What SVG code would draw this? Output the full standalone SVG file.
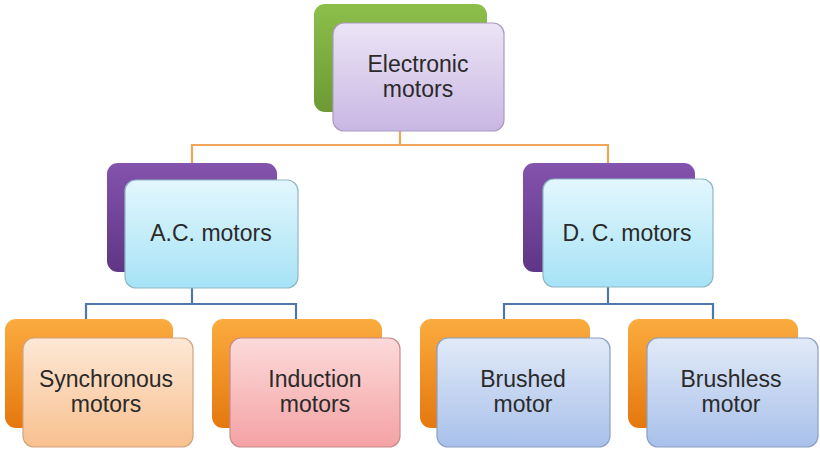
<svg xmlns="http://www.w3.org/2000/svg" width="820" height="451" viewBox="0 0 820 451">
<defs>
<linearGradient id="gGreen" x1="0" y1="0" x2="0" y2="1"><stop offset="0" stop-color="#8cbf4a"/><stop offset="1" stop-color="#6d9a33"/></linearGradient>
<linearGradient id="gPurple" x1="0" y1="0" x2="0" y2="1"><stop offset="0" stop-color="#8453ad"/><stop offset="1" stop-color="#5f3585"/></linearGradient>
<linearGradient id="gOrange" x1="0" y1="0" x2="0" y2="1"><stop offset="0" stop-color="#fbab3f"/><stop offset="1" stop-color="#e4780f"/></linearGradient>
<linearGradient id="gLav" x1="0" y1="0" x2="0" y2="1"><stop offset="0" stop-color="#ebe4f5"/><stop offset="1" stop-color="#c9b7e3"/></linearGradient>
<linearGradient id="gCyan" x1="0" y1="0" x2="0" y2="1"><stop offset="0" stop-color="#e3f7fd"/><stop offset="1" stop-color="#a6e2f6"/></linearGradient>
<linearGradient id="gPeach" x1="0" y1="0" x2="0" y2="1"><stop offset="0" stop-color="#fde8d6"/><stop offset="1" stop-color="#f8c08f"/></linearGradient>
<linearGradient id="gPink" x1="0" y1="0" x2="0" y2="1"><stop offset="0" stop-color="#fcdada"/><stop offset="1" stop-color="#f4a2a4"/></linearGradient>
<linearGradient id="gBlue" x1="0" y1="0" x2="0" y2="1"><stop offset="0" stop-color="#e1eaf8"/><stop offset="1" stop-color="#a8c0ea"/></linearGradient>
</defs>
<style>
.t{font-family:"Liberation Sans",Arial,sans-serif;font-size:23px;fill:#2a2a2a;text-anchor:middle}
.back{stroke:none}
.front{stroke-width:1.2}
.oc{fill:none;stroke:#f0a55a;stroke-width:2.2}
.bc{fill:none;stroke:#4f77ad;stroke-width:2.2}
</style>
<g id="connectors">
<path class="oc" d="M400 130 V145 M192 163 V145 H608 V163"/>
<path class="bc" d="M192 288 V304 M86 319 V304 H296 V319"/>
<path class="bc" d="M608 287 V304 M504 319 V304 H713 V319"/>
</g>
<g id="electronic">
<rect class="back" x="314" y="4" width="173" height="108" rx="11" fill="url(#gGreen)"/>
<rect class="front" x="333" y="23" width="171" height="108" rx="11" fill="url(#gLav)" stroke="#a99bc0"/>
<text class="t" x="418" y="72">Electronic</text>
<text class="t" x="418" y="97">motors</text>
</g>
<g id="ac">
<rect class="back" x="107" y="163" width="170" height="109" rx="11" fill="url(#gPurple)"/>
<rect class="front" x="125" y="180" width="173" height="108" rx="11" fill="url(#gCyan)" stroke="#8fb8c4"/>
<text class="t" x="211" y="241">A.C. motors</text>
</g>
<g id="dc">
<rect class="back" x="523" y="163" width="172" height="109" rx="11" fill="url(#gPurple)"/>
<rect class="front" x="543" y="179" width="170" height="108" rx="11" fill="url(#gCyan)" stroke="#8fb8c4"/>
<text class="t" x="627" y="241">D. C. motors</text>
</g>
<g id="sync">
<rect class="back" x="5" y="319" width="168" height="109" rx="11" fill="url(#gOrange)"/>
<rect class="front" x="23" y="338" width="170" height="109" rx="11" fill="url(#gPeach)" stroke="#d3a47e"/>
<text class="t" x="106" y="387">Synchronous</text>
<text class="t" x="106" y="412">motors</text>
</g>
<g id="induction">
<rect class="back" x="212" y="319" width="170" height="109" rx="11" fill="url(#gOrange)"/>
<rect class="front" x="230" y="338" width="170" height="109" rx="11" fill="url(#gPink)" stroke="#c98a8c"/>
<text class="t" x="315" y="387">Induction</text>
<text class="t" x="315" y="412">motors</text>
</g>
<g id="brushed">
<rect class="back" x="420" y="319" width="170" height="109" rx="11" fill="url(#gOrange)"/>
<rect class="front" x="437" y="338" width="173" height="109" rx="11" fill="url(#gBlue)" stroke="#8aa0c4"/>
<text class="t" x="523" y="387">Brushed</text>
<text class="t" x="523" y="412">motor</text>
</g>
<g id="brushless">
<rect class="back" x="628" y="319" width="170" height="109" rx="11" fill="url(#gOrange)"/>
<rect class="front" x="647" y="338" width="171" height="109" rx="11" fill="url(#gBlue)" stroke="#8aa0c4"/>
<text class="t" x="731" y="387">Brushless</text>
<text class="t" x="731" y="412">motor</text>
</g>
</svg>
